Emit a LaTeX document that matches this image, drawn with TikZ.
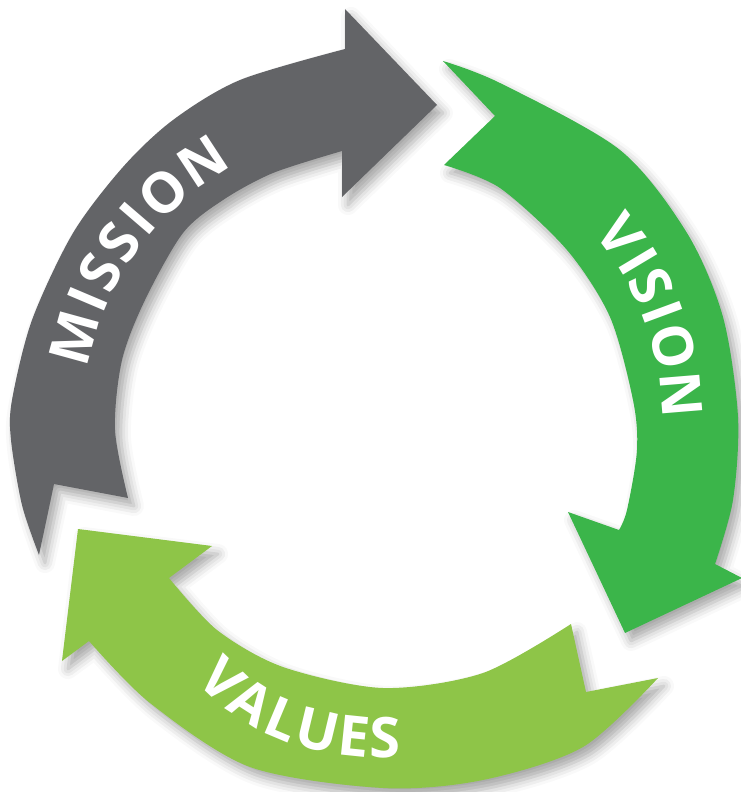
\documentclass[tikz,border=0pt]{standalone}
\usepackage{fontspec}
\setmainfont{Open Sans}
\usetikzlibrary{decorations.text,shadows.blur}
\definecolor{missiongray}{RGB}{99,100,103}
\definecolor{visiongreen}{RGB}{59,181,74}
\definecolor{valuesgreen}{RGB}{142,197,72}
\newcommand\arrowfont{\bfseries\fontsize{28}{30}\selectfont\color{white}}
\begin{document}
\begin{tikzpicture}[x=0.5pt,y=-0.5pt]
\tikzstyle{cyclearrow}=[blur shadow={shadow xshift=3pt,shadow yshift=-4pt,shadow blur radius=5pt,shadow opacity=35}]
\tikzstyle{arrowlabel}=[decorate,decoration={text along path,text align=fit to path,raise=-10pt}]
\useasboundingbox (0,0) rectangle (740,792);
\fill [missiongray,cyclearrow] (39,555) -- (54,484) -- (128,498)
  -- plot [smooth] coordinates {(128,498) (115,430) (122,360) (145,300) (183,233) (223,200) (273,173) (342,151)}
  -- (342,197) -- (437,105) -- (345,9) -- (345,49)
  -- plot [smooth] coordinates {(345,49) (240,80) (173,120) (123,167) (73,233) (32,320) (12,400) (11,440) (22,505) (39,555)} -- cycle;
\fill [visiongreen,cyclearrow] (443,61) -- (495,116) -- (444,165)
  -- plot [smooth] coordinates {(444,165) (500,188) (567,250) (610,317) (633,400) (637,450) (627,510) (619,530)}
  -- (568,512) -- (625,633) -- (742,578) -- (715,564)
  -- plot [smooth] coordinates {(715,564) (733,500) (738,417) (723,317) (687,233) (620,150) (500,83) (443,61)} -- cycle;
\fill [valuesgreen,cyclearrow] (658,678) -- (586,692) -- (571,624)
  -- plot [smooth] coordinates {(571,624) (483,673) (383,688) (283,667) (217,630) (169,578)}
  -- (212,546) -- (78,529) -- (62,661) -- (89,641)
  -- plot [smooth] coordinates {(89,641) (150,703) (250,767) (383,788) (483,780) (583,747) (658,678)} -- cycle;
\path [arrowlabel,decoration={text={|\arrowfont|MISSION}}] (372,420) ++(190.5:309) arc [start angle=190.5,end angle=241,radius=309];
\path [arrowlabel,decoration={text={|\arrowfont|VISION}}] (372,420) ++(-40:310) arc [start angle=-40,end angle=-0.5,radius=310];
\path [arrowlabel,decoration={text={|\arrowfont|VALUES}}] (210,666) .. controls (255,718) and (320,740) .. (399,738);
\end{tikzpicture}
\end{document}
